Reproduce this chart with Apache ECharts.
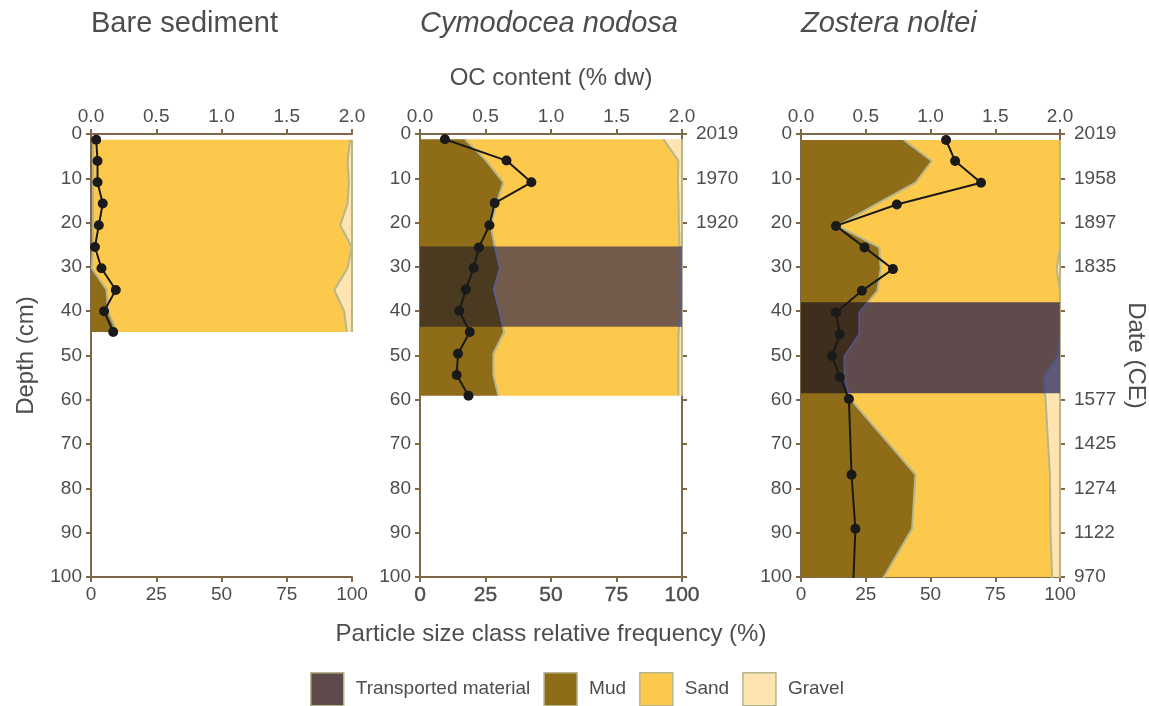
<!DOCTYPE html>
<html>
<head>
<meta charset="utf-8">
<script src="https://cdn.jsdelivr.net/npm/echarts@6/dist/echarts.min.js"></script>
<style>
  html, body { margin: 0; padding: 0; background: #ffffff; }
  #chart { width: 1149px; height: 706px; }
</style>
</head>
<body>
<div id="chart"></div>
<script>
// ---- Bare sediment core ----
const bareDepth  = [1.3, 6.1, 10.9, 15.7, 20.6, 25.5, 30.3, 35.2, 40.0, 44.7];
const bareOC     = [0.04, 0.05, 0.05, 0.09, 0.06, 0.03, 0.08, 0.19, 0.10, 0.17];
const bareMud    = [0.8, 0.8, 0.8, 0.8, 0.8, 0.8, 0.3, 6.0, 6.5, 10.0];
const bareSand   = [98.5, 97.5, 98.0, 97.5, 94.7, 99.1, 98.0, 87.2, 90.5, 88.0];
const bareGravel = [0.7, 1.7, 1.2, 1.7, 4.5, 0.1, 1.7, 6.8, 3.0, 2.0];

// ---- Cymodocea nodosa core ----
const cymoDepth  = [1.2, 6.0, 10.9, 15.6, 20.6, 25.6, 30.2, 35.1, 39.9, 44.7, 49.6, 54.4, 59.1];
const cymoOC     = [0.19, 0.66, 0.85, 0.57, 0.53, 0.45, 0.41, 0.35, 0.30, 0.38, 0.29, 0.28, 0.37];
const cymoMud    = [17.2, 25.2, 31.8, 29.3, 27.0, 28.6, 30.5, 28.2, 30.3, 32.1, 28.0, 28.0, 29.9];
const cymoSand   = [75.7, 73.4, 66.6, 69.4, 71.8, 70.5, 68.8, 70.9, 69.1, 66.6, 70.6, 70.6, 68.7];
const cymoGravel = [7.1, 1.4, 1.6, 1.3, 1.2, 0.9, 0.7, 0.9, 0.6, 1.3, 1.4, 1.4, 1.4];
const cymoTransported = [25.4, 43.5];
const cymoDates  = ['2019', '1970', '1920', '', '', '', '', '', '', '', ''];

// ---- Zostera noltei core ----
const zostDepth  = [1.35, 6.1, 11.0, 15.9, 20.75, 25.6, 30.5, 35.4, 40.3, 45.2, 50.1, 54.9, 59.8, 76.9, 89.1, 104];
const zostOC     = [1.12, 1.19, 1.39, 0.74, 0.27, 0.49, 0.71, 0.47, 0.27, 0.30, 0.24, 0.30, 0.37, 0.39, 0.42, 0.40];
const zostMud    = [39.7, 50.5, 44.2, 28.9, 14.2, 30.2, 30.8, 29.5, 22.5, 22.5, 16.8, 16.8, 19.0, 44.2, 42.9, 28.0];
const zostSand   = [60.3, 49.5, 55.8, 71.1, 85.8, 69.8, 67.9, 70.5, 77.5, 77.5, 82.4, 77.0, 75.4, 51.9, 53.4, 69.2];
const zostGravel = [0, 0, 0, 0, 0, 0, 1.3, 0, 0, 0, 0.8, 6.2, 5.6, 3.9, 3.7, 2.8];
const zostTransported = [38.0, 58.5];
const zostDates  = ['2019', '1958', '1897', '1835', '', '', '1577', '1425', '1274', '1122', '970'];

const panelTitles = ['Bare sediment', 'Cymodocea nodosa', 'Zostera noltei'];

const COL = {
  transported: '#5f4b4b',
  mud: '#8f6c18',
  sand: '#fdc94c',
  gravel: '#fde4b0',
  outline: '#b6b68e',
  axis: '#7f6849',
  text: '#4d4d4d',
  oc: '#1a1a1a'
};
const FONT = '"Liberation Sans", Arial, Helvetica, sans-serif';

// shaded look of each layer inside the transported-material interval
const bandShadeCymo = { mud: '#4a3a20', sand: '#735b4b', gravel: '#6f6788', outline: '#5d5d88' };
const bandShadeZost = { mud: '#3e2e1e', sand: '#5f4b4b', gravel: '#5f5878', outline: '#55557f' };

const panels = [
  { depth: bareDepth, oc: bareOC, mud: bareMud, sand: bareSand, gravel: bareGravel,
    band: null, shade: null, dates: null, left: 91, width: 261 },
  { depth: cymoDepth, oc: cymoOC, mud: cymoMud, sand: cymoSand, gravel: cymoGravel,
    band: cymoTransported, shade: bandShadeCymo, dates: cymoDates, left: 420, width: 262 },
  { depth: zostDepth, oc: zostOC, mud: zostMud, sand: zostSand, gravel: zostGravel,
    band: zostTransported, shade: bandShadeZost, dates: zostDates, left: 801, width: 262 }
];

const GRID_TOP = 134, GRID_H = 443;
const axisLine = { show: true, onZero: false, lineStyle: { color: COL.axis, width: 2 } };
const axisTick = { show: true, length: 5, lineStyle: { color: COL.axis, width: 2 } };
const labelBase = { color: COL.text, fontSize: 19, fontFamily: FONT };

const grid = [], xAxis = [], yAxis = [], series = [];
const leftY = [];

panels.forEach((p, gi) => {
  grid.push({ left: p.left, top: GRID_TOP, width: p.width, height: GRID_H, containLabel: false });

  // bottom: particle size class frequency
  const bottom = {
    type: 'value', gridIndex: gi, position: 'bottom', min: 0, max: 100, interval: 25,
    axisLine, axisTick, splitLine: { show: false },
    axisLabel: Object.assign({ margin: 8 }, labelBase)
  };
  if (gi === 1) {
    bottom.axisLabel = Object.assign({}, bottom.axisLabel, { fontSize: 21, textBorderColor: COL.text, textBorderWidth: 0.4 });
    bottom.name = 'Particle size class relative frequency (%)';
    bottom.nameLocation = 'middle';
    bottom.nameGap = 45;
    bottom.nameTextStyle = { color: COL.text, fontSize: 24, fontFamily: FONT };
  }
  xAxis.push(bottom);

  // top: organic carbon content
  const top = {
    type: 'value', gridIndex: gi, position: 'top', min: 0, max: 2, interval: 0.5,
    axisLine, axisTick, splitLine: { show: false },
    axisLabel: Object.assign({ margin: 8, formatter: v => v.toFixed(1) }, labelBase)
  };
  if (gi === 1) {
    top.name = 'OC content (% dw)';
    top.nameLocation = 'middle';
    top.nameGap = 44;
    top.nameTextStyle = { color: COL.text, fontSize: 24, fontFamily: FONT };
  }
  xAxis.push(top);

  // left: depth
  const depthAxis = {
    type: 'value', gridIndex: gi, position: 'left', inverse: true, min: 0, max: 100, interval: 10,
    axisLine, axisTick, splitLine: { show: false },
    axisLabel: Object.assign({ margin: 9 }, labelBase)
  };
  if (gi === 0) {
    depthAxis.name = 'Depth (cm)';
    depthAxis.nameLocation = 'middle';
    depthAxis.nameGap = 53;
    depthAxis.nameRotate = 90;
    depthAxis.nameTextStyle = { color: COL.text, fontSize: 24, fontFamily: FONT };
  }
  leftY.push(yAxis.length);
  yAxis.push(depthAxis);

  // right: age model dates
  if (p.dates) {
    const dates = p.dates;
    const dateAxis = {
      type: 'value', gridIndex: gi, position: 'right', inverse: true, min: 0, max: 100, interval: 10,
      axisLine, axisTick, splitLine: { show: false },
      axisLabel: Object.assign({ margin: 14, formatter: v => dates[Math.round(v / 10)] || '' }, labelBase)
    };
    if (gi === 2) {
      dateAxis.name = 'Date (CE)';
      dateAxis.nameLocation = 'middle';
      dateAxis.nameGap = 64;
      dateAxis.nameRotate = -90;
      dateAxis.nameTextStyle = { color: COL.text, fontSize: 24, fontFamily: FONT };
    }
    yAxis.push(dateAxis);
  }
});

// stacked layer polygon between two cumulative boundaries
function layer(name, color, depth, lower, upper, gi) {
  return {
    type: 'custom', name, xAxisIndex: gi * 2, yAxisIndex: leftY[gi], clip: true, z: 2,
    silent: true, itemStyle: { color }, data: [0],
    renderItem: (params, api) => {
      const pts = [];
      for (let i = 0; i < depth.length; i++) pts.push(api.coord([lower[i], depth[i]]));
      for (let i = depth.length - 1; i >= 0; i--) pts.push(api.coord([upper[i], depth[i]]));
      return { type: 'polygon', shape: { points: pts }, style: { fill: color } };
    }
  };
}

// upper edge outline of a layer
function outline(depth, cum, gi) {
  return {
    type: 'line', xAxisIndex: gi * 2, yAxisIndex: leftY[gi], z: 3, silent: true,
    symbol: 'none', clip: true, animation: false,
    lineStyle: { color: COL.outline, width: 2 },
    data: depth.map((d, i) => [cum[i], d])
  };
}

// portion of a boundary curve between depths t and b (edges found on the drawn segments)
function curvePart(depth, vals, t, b) {
  const at = d => {
    for (let i = 0; i < depth.length - 1; i++) {
      if (d >= depth[i] && d <= depth[i + 1]) {
        const f = (d - depth[i]) / (depth[i + 1] - depth[i]);
        return vals[i] + f * (vals[i + 1] - vals[i]);
      }
    }
    return vals[vals.length - 1];
  };
  const out = [[at(t), t]];
  depth.forEach((d, i) => { if (d > t && d < b) out.push([vals[i], d]); });
  out.push([at(b), b]);
  return out;
}

panels.forEach((p, gi) => {
  const zero = p.depth.map(() => 0);
  const cMud = p.mud.slice();
  const cSand = p.mud.map((m, i) => m + p.sand[i]);
  const cGrav = cSand.map((s, i) => s + p.gravel[i]);

  series.push(layer('Mud', COL.mud, p.depth, zero, cMud, gi));
  series.push(layer('Sand', COL.sand, p.depth, cMud, cSand, gi));
  series.push(layer('Gravel', COL.gravel, p.depth, cSand, cGrav, gi));
  series.push(outline(p.depth, cMud, gi));
  series.push(outline(p.depth, cSand, gi));
  series.push(outline(p.depth, cGrav, gi));

  if (p.band) {
    const [t, b] = p.band, shade = p.shade, depth = p.depth;
    series.push({
      type: 'custom', name: 'Transported material', xAxisIndex: gi * 2, yAxisIndex: leftY[gi],
      clip: true, z: 4, silent: true, itemStyle: { color: COL.transported }, data: [0],
      renderItem: (params, api) => {
        const toPx = arr => arr.map(pt => api.coord(pt));
        const poly = (lo, hi, fill) => {
          const l = curvePart(depth, lo, t, b), h = curvePart(depth, hi, t, b).reverse();
          return { type: 'polygon', shape: { points: toPx(l.concat(h)) }, style: { fill } };
        };
        const line = vals => ({
          type: 'polyline', shape: { points: toPx(curvePart(depth, vals, t, b)) },
          style: { fill: null, stroke: shade.outline, lineWidth: 2 }
        });
        return {
          type: 'group',
          children: [
            poly(zero, cMud, shade.mud),
            poly(cMud, cSand, shade.sand),
            poly(cSand, cGrav, shade.gravel),
            line(cMud), line(cSand), line(cGrav)
          ]
        };
      }
    });
  }

  series.push({
    type: 'line', name: 'OC', xAxisIndex: gi * 2 + 1, yAxisIndex: leftY[gi], z: 6,
    clip: true, silent: true, animation: false,
    symbol: 'circle', symbolSize: 10,
    itemStyle: { color: COL.oc },
    lineStyle: { color: COL.oc, width: 2 },
    data: p.depth.map((d, i) => [p.oc[i], d])
  });
});

const chart = echarts.init(document.getElementById('chart'), null, { renderer: 'canvas' });
chart.setOption({
  backgroundColor: '#ffffff',
  animation: false,
  textStyle: { fontFamily: FONT },
  title: panelTitles.map((t, i) => ({
    text: t, left: panels[i].left, top: 9, padding: 0,
    textStyle: { fontSize: 29, fontWeight: 'normal', fontStyle: i === 0 ? 'normal' : 'italic',
                 color: COL.text, fontFamily: FONT }
  })),
  legend: {
    left: 310, top: 672, padding: 0, orient: 'horizontal', icon: 'rect',
    itemWidth: 33, itemHeight: 33, itemGap: 13, selectedMode: false,
    itemStyle: { borderColor: COL.outline, borderWidth: 1.5 },
    textStyle: { color: COL.text, fontSize: 19, fontFamily: FONT, padding: [0, 0, 0, 7] },
    data: [
      { name: 'Transported material', itemStyle: { color: COL.transported } },
      { name: 'Mud', itemStyle: { color: COL.mud } },
      { name: 'Sand', itemStyle: { color: COL.sand } },
      { name: 'Gravel', itemStyle: { color: COL.gravel } }
    ]
  },
  grid, xAxis, yAxis, series
});
</script>
</body>
</html>
